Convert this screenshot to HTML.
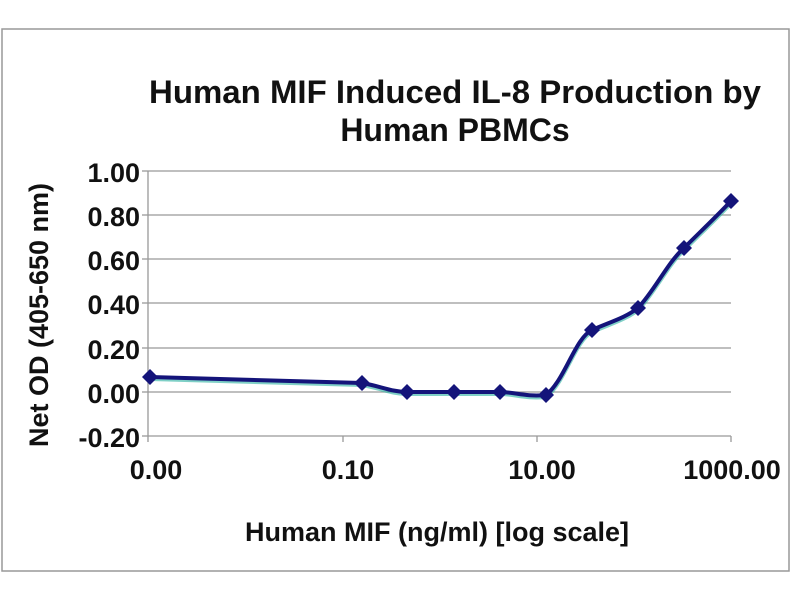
<!DOCTYPE html>
<html><head><meta charset="utf-8"><style>
html,body{margin:0;padding:0;background:#fff;}
</style></head><body>
<svg width="800" height="600" viewBox="0 0 800 600" xmlns="http://www.w3.org/2000/svg" font-family="Liberation Sans, sans-serif" font-weight="bold">
<rect x="0" y="0" width="800" height="600" fill="#fff"/>
<rect x="2" y="29" width="787" height="542" fill="#fff" stroke="#999" stroke-width="1.5"/>
<text x="455" y="103" font-size="32" text-anchor="middle" fill="#111" textLength="612" lengthAdjust="spacingAndGlyphs">Human MIF Induced IL-8 Production by</text>
<text x="455" y="141" font-size="32" text-anchor="middle" fill="#111">Human PBMCs</text>
<g stroke="#999" stroke-width="1.3">
<line x1="148" y1="171" x2="731" y2="171"/>
<line x1="148" y1="215" x2="731" y2="215"/>
<line x1="148" y1="259" x2="731" y2="259"/>
<line x1="148" y1="303" x2="731" y2="303"/>
<line x1="148" y1="348" x2="731" y2="348"/>
<line x1="148" y1="392" x2="731" y2="392"/>
<line x1="148" y1="436" x2="731" y2="436"/>
<line x1="148" y1="171" x2="148" y2="442"/>
<line x1="142" y1="171" x2="148" y2="171"/><line x1="142" y1="215" x2="148" y2="215"/>
<line x1="142" y1="259" x2="148" y2="259"/><line x1="142" y1="303" x2="148" y2="303"/>
<line x1="142" y1="348" x2="148" y2="348"/><line x1="142" y1="392" x2="148" y2="392"/>
<line x1="142" y1="436" x2="148" y2="436"/>
<line x1="343" y1="436" x2="343" y2="442"/><line x1="537" y1="436" x2="537" y2="442"/><line x1="731" y1="436" x2="731" y2="442"/>
</g>
<g font-size="27" fill="#111" text-anchor="end">
<text x="140" y="182">1.00</text><text x="140" y="226">0.80</text><text x="140" y="270">0.60</text>
<text x="140" y="314">0.40</text><text x="140" y="359">0.20</text><text x="140" y="403">0.00</text>
<text x="140" y="447">-0.20</text>
</g>
<g font-size="27" fill="#111" text-anchor="middle">
<text x="156" y="479">0.00</text><text x="348" y="479">0.10</text><text x="542" y="479">10.00</text><text x="732" y="479">1000.00</text>
</g>
<text x="437" y="541" font-size="27" text-anchor="middle" fill="#111">Human MIF (ng/ml) [log scale]</text>
<text transform="translate(48,315) rotate(-90)" font-size="27" text-anchor="middle" fill="#111">Net OD (405-650 nm)</text>
<path d="M150,377 L362,383 C380,386 392,392 407,392 L500,392 C515,392 525,397 546,395 C565,380 575,338 592,330 C610,322 625,318 638,308 C655,290 668,262 684,248 C700,232 715,218 731,201" fill="none" stroke="#2ab0a0" stroke-width="5" transform="translate(0,1.5)" opacity="0.6"/>
<path d="M150,377 L362,383 C380,386 392,392 407,392 L500,392 C515,392 525,397 546,395 C565,380 575,338 592,330 C610,322 625,318 638,308 C655,290 668,262 684,248 C700,232 715,218 731,201" fill="none" stroke="#14147a" stroke-width="4"/>
<g fill="#14147a">
<path d="M150,369 l8,8 l-8,8 l-8,-8z"/>
<path d="M362,375 l8,8 l-8,8 l-8,-8z"/>
<path d="M407,384 l8,8 l-8,8 l-8,-8z"/>
<path d="M454,384 l8,8 l-8,8 l-8,-8z"/>
<path d="M500,384 l8,8 l-8,8 l-8,-8z"/>
<path d="M546,387 l8,8 l-8,8 l-8,-8z"/>
<path d="M592,322 l8,8 l-8,8 l-8,-8z"/>
<path d="M638,300 l8,8 l-8,8 l-8,-8z"/>
<path d="M684,240 l8,8 l-8,8 l-8,-8z"/>
<path d="M731,193 l8,8 l-8,8 l-8,-8z"/>
</g>
</svg>
</body></html>
